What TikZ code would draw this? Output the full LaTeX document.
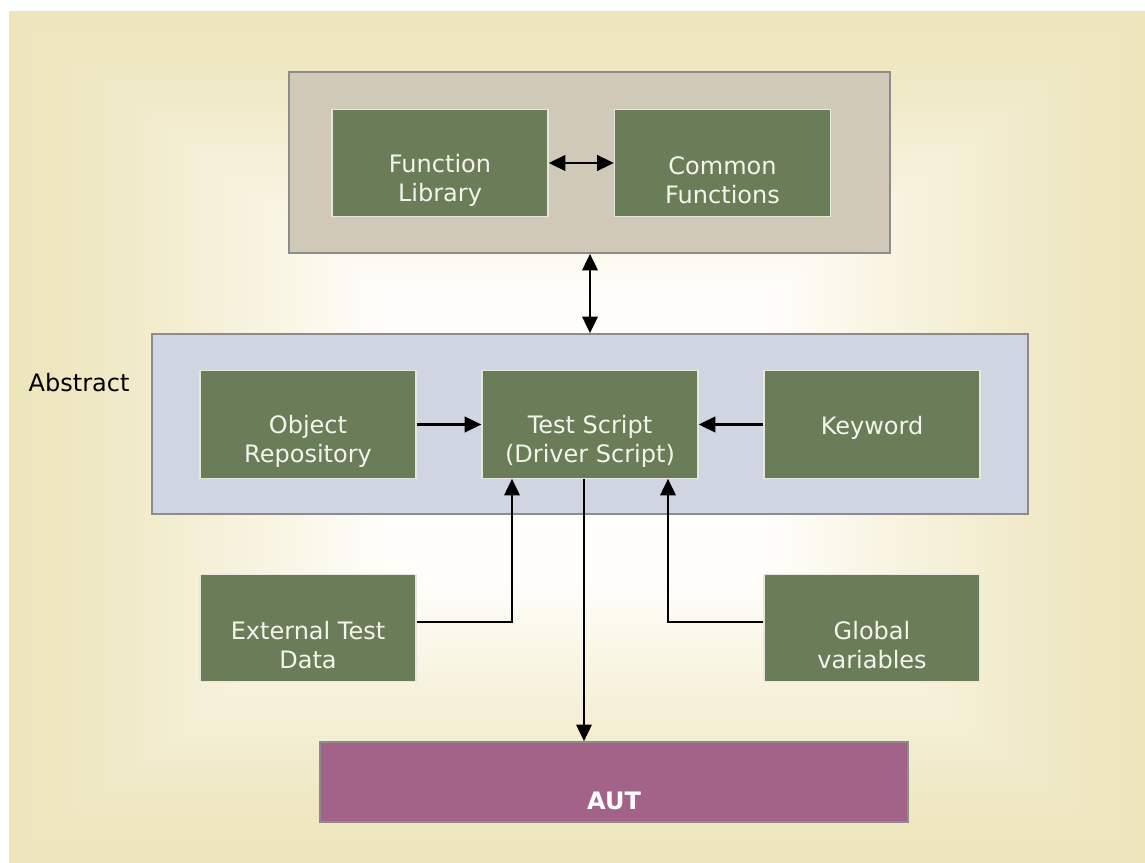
\documentclass[tikz,border=0pt]{standalone}
\usepackage{fontspec}
\setmainfont{DejaVu Sans}
\usetikzlibrary{arrows.meta}
\definecolor{bgouter}{HTML}{EDE5BC}
\definecolor{bginner}{HTML}{FFFEFA}
\definecolor{greyfill}{HTML}{D0C9B8}
\definecolor{bluefill}{HTML}{CFD5E1}
\definecolor{greenfill}{HTML}{6A7D58}
\definecolor{autfill}{HTML}{A36389}
\definecolor{frame}{HTML}{8C8C8C}
\definecolor{txtwhite}{HTML}{F4F4EC}
\tikzset{
  panel/.style={draw=frame, line width=1.2pt, inner sep=0pt},
  gbox/.style={draw=txtwhite!90!greenfill, line width=0.9pt, fill=greenfill,
    minimum width=162pt, minimum height=80.5pt, inner sep=0pt},
  gtxt/.style={text=txtwhite, align=center, inner sep=0pt, yshift=-12.75pt,
    font=\fontsize{18}{21.75}\selectfont},
  arr/.style={line width=2pt, -{Triangle[length=12.5pt,width=11.5pt]}},
  dbl/.style={line width=2pt, {Triangle[length=12.5pt,width=11.5pt]}-{Triangle[length=12.5pt,width=11.5pt]}},
  autlbl/.style={text=white, font=\fontsize{18}{20}\selectfont\bfseries},
}
\begin{document}
\begin{tikzpicture}[x=0.75pt,y=-0.75pt]
\useasboundingbox (0,0) rectangle (1145,863);
% background gradient
\fill[white] (0,0) rectangle (1145,863);
\foreach \i in {0,...,48}{
  \pgfmathsetmacro{\t}{\i/50}
  \pgfmathsetmacro{\xa}{9+\t*568}
  \pgfmathsetmacro{\xb}{1145-\t*568}
  \pgfmathsetmacro{\ya}{11+\t*426}
  \pgfmathsetmacro{\yb}{863-\t*426}
  \pgfmathsetmacro{\p}{min(100,100*(\t/0.65+0.0001)^1.3)}
  \fill[bginner!\p!bgouter] (\xa,\ya) rectangle (\xb,\yb);
}
% panels
\node[panel, fill=greyfill, minimum width=450.75pt, minimum height=135.75pt] (grey) at (589.5,162.5) {};
\node[panel, fill=bluefill, minimum width=657pt, minimum height=135pt] (blue) at (590,424) {};
\node[panel, fill=autfill, minimum width=441pt, minimum height=60pt,
  label={[autlbl,yshift=-14pt]center:AUT}] (aut) at (614,782) {};
\node[anchor=west, font=\fontsize{18}{20}\selectfont] (abs) at (24,383) {Abstract};
% green boxes
\node[gbox, label={[gtxt]center:Function\\Library}] (fl) at (440,163) {};
\node[gbox, label={[gtxt]center:Common\\Functions}] (cf) at (722.5,163) {};
\node[gbox, label={[gtxt]center:Object\\Repository}] (or) at (308,424.5) {};
\node[gbox, label={[gtxt]center:Test Script\\(Driver Script)}] (ts) at (590,424.5) {};
\node[gbox, label={[gtxt,yshift=10.5pt]center:Keyword}] (kw) at (872,424.5) {};
\node[gbox, label={[gtxt]center:External Test\\Data}] (etd) at (308,628) {};
\node[gbox, label={[gtxt]center:Global\\variables}] (gv) at (872,628) {};
% connectors
\draw[dbl] (fl) -- (cf);
\draw[dbl] (grey.south -| ts) -- (blue.north -| ts);
\draw[arr] (or) -- (ts);
\draw[arr] (kw) -- (ts);
\draw[arr] ([yshift=4.5pt]etd.east) -| ([xshift=-58.5pt]ts.south);
\draw[arr] ([yshift=4.5pt]gv.west) -| ([xshift=58.5pt]ts.south);
\draw[arr] ([xshift=-4.5pt]ts.south) -- ([xshift=-4.5pt]ts.south |- aut.north);
\end{tikzpicture}
\end{document}
